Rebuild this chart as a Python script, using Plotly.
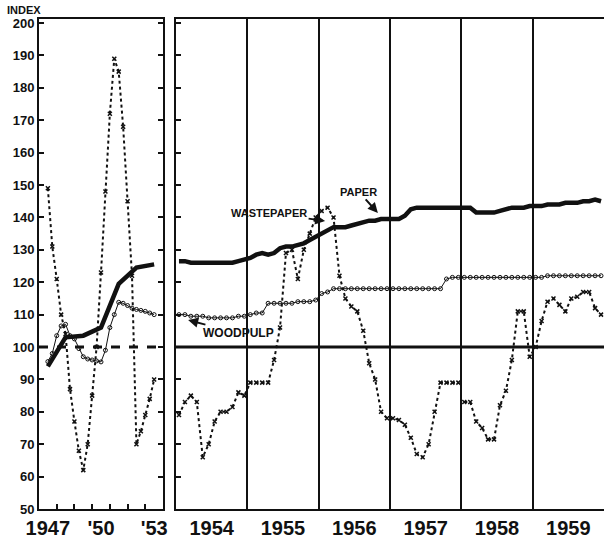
import plotly.graph_objects as go

# ---- 1947-1953 (left panel) ----
paper_years = [1947.5, 1948.5, 1949.5, 1950.5, 1951.5, 1952.5, 1953.5]
paper_early = [94, 103, 103.5, 106, 119.5, 124.5, 125.5]

early_q = [1947.5 + 0.25 * i for i in range(25)]
woodpulp_early = [95.5, 98, 103.5, 106.5, 107, 103.5, 102.5, 99.5, 97, 96.3, 96, 95.7, 95.4,
                  99, 106, 110, 113.8, 113.5, 112.8, 112, 111.6, 111.3, 111, 110.5, 110]
wastepaper_early = [149, 131, 121, 110, 104, 87, 77, 68, 62, 70, 85, 100, 123,
                    148, 172, 189, 185, 168, 145, 122, 70, 74, 79, 84, 90]

# ---- 1954-1959 monthly (right panel) ----
months = [1954 + (i + 0.5) / 12 for i in range(72)]
paper_late = [126.5, 126.5, 126, 126, 126, 126, 126, 126, 126, 126, 126.5, 127,
              127.5, 128.5, 129, 128.5, 129, 130.5, 131, 131, 131.5, 132, 133, 134,
              135, 136, 137, 137, 137, 137.5, 138, 138.5, 139, 139, 139.5, 139.5,
              139.5, 139.5, 140.5, 142.5, 143, 143, 143, 143, 143, 143, 143, 143,
              143, 143, 141.5, 141.5, 141.5, 141.5, 142, 142.5, 143, 143, 143, 143.5,
              143.5, 143.5, 144, 144, 144, 144.5, 144.5, 144.5, 145, 145, 145.5, 145]
woodpulp_late = [110, 110, 109.5, 109.5, 109.5, 109, 109, 109, 109, 109, 109.5, 109.5,
                 110, 110.5, 110.5, 113.5, 113.5, 113.5, 113.5, 113.5, 114, 114, 114, 114.5,
                 116.5, 117, 118, 118, 118, 118, 118, 118, 118, 118, 118, 118,
                 118, 118, 118, 118, 118, 118, 118, 118, 118, 121, 121.5, 121.5,
                 121.5, 121.5, 121.5, 121.5, 121.5, 121.5, 121.5, 121.5, 121.5, 121.5, 121.5, 121.5,
                 121.5, 121.5, 122, 122, 122, 122, 122, 122, 122, 122, 122, 122]
wastepaper_late = [79, 83, 85, 83, 66, 70, 77, 80, 80, 81.5, 86, 85,
                   89, 89, 89, 89, 96, 106, 129, 130, 121, 130, 135, 140,
                   142, 143, 140, 122, 115, 112.5, 111, 105, 95, 90, 80, 78,
                   78, 77.5, 76, 72, 67, 66, 70, 80, 89, 89, 89, 89,
                   83, 83, 77, 75, 71.5, 71.5, 82, 86.5, 96, 111, 111, 97,
                   100, 108, 114, 115, 113, 111, 115, 115.5, 117, 117, 112, 110]
# no line drawn between Dec 1957 and Jan 1958
wp_x = months[:48] + [1958.0] + months[48:]
wp_y = wastepaper_late[:48] + [None] + wastepaper_late[48:]

y_ticks = list(range(50, 201, 10))
early_labels = ["1947", "'50", "'53"]
late_labels = ["1954", "1955", "1956", "1957", "1958", "1959"]

INK = "#111111"
FONT = "Liberation Sans"

fig = go.Figure()

# left panel
fig.add_trace(go.Scatter(x=early_q, y=wastepaper_early, mode="lines+markers",
                         line=dict(color=INK, width=2, dash="dot"),
                         marker=dict(symbol="x-thin", size=4, line=dict(color=INK, width=1.5)),
                         xaxis="x", yaxis="y", name="Wastepaper"))
fig.add_trace(go.Scatter(x=early_q, y=woodpulp_early, mode="lines+markers",
                         line=dict(color=INK, width=1),
                         marker=dict(symbol="circle-open", size=4, color=INK, line=dict(width=1)),
                         xaxis="x", yaxis="y", name="Woodpulp"))
fig.add_trace(go.Scatter(x=paper_years, y=paper_early, mode="lines",
                         line=dict(color=INK, width=4.5),
                         xaxis="x", yaxis="y", name="Paper"))

# right panel
fig.add_trace(go.Scatter(x=wp_x, y=wp_y, mode="lines+markers",
                         line=dict(color=INK, width=2, dash="dot"),
                         marker=dict(symbol="x-thin", size=4, line=dict(color=INK, width=1.5)),
                         connectgaps=False,
                         xaxis="x2", yaxis="y2", name="Wastepaper"))
fig.add_trace(go.Scatter(x=months, y=woodpulp_late, mode="lines+markers",
                         line=dict(color=INK, width=1),
                         marker=dict(symbol="circle-open", size=4, color=INK, line=dict(width=1)),
                         xaxis="x2", yaxis="y2", name="Woodpulp"))
fig.add_trace(go.Scatter(x=months, y=paper_late, mode="lines",
                         line=dict(color=INK, width=4.5),
                         xaxis="x2", yaxis="y2", name="Paper"))

# base 100 lines
fig.add_shape(type="line", xref="x domain", yref="y", x0=0, x1=1, y0=100, y1=100,
              line=dict(color=INK, width=3, dash="dash"), layer="below")
fig.add_shape(type="line", xref="x2 domain", yref="y2", x0=0, x1=1, y0=100, y1=100,
              line=dict(color=INK, width=3), layer="below")

yr = [50, 201.4]
yfont = dict(family=FONT, size=13, color=INK)
xfont = dict(family=FONT, size=20, color=INK)
ydom = [31 / 540, 521.5 / 540]

fig.update_layout(
    width=604, height=540,
    margin=dict(l=0, r=0, t=0, b=0, pad=0, autoexpand=False),
    paper_bgcolor="white", plot_bgcolor="white",
    showlegend=False,
    xaxis=dict(domain=[39 / 604, 163 / 604], range=[1947, 1954], automargin=False,
               tickvals=[1947.5, 1950.5, 1953.5],
               ticktext=["<b>%s</b>" % t for t in early_labels],
               ticks="", tickfont=xfont, ticklabelstandoff=0,
               showgrid=False, zeroline=False,
               showline=True, linecolor=INK, linewidth=2, mirror=True,
               minor=dict(tickvals=[1948, 1949, 1950, 1951, 1952, 1953],
                          ticks="inside", ticklen=5, tickwidth=1.5, tickcolor=INK)),
    yaxis=dict(domain=ydom, range=yr, anchor="x", automargin=False,
               tickvals=y_ticks, ticktext=["<b>%d</b>" % v for v in y_ticks],
               ticks="inside", ticklen=5, tickwidth=1.5, tickcolor=INK,
               tickfont=yfont, showgrid=False, zeroline=False,
               showline=True, linecolor=INK, linewidth=2, mirror="ticks"),
    xaxis2=dict(domain=[176 / 604, 1.0], range=[1954, 1960], anchor="y2", automargin=False,
                tickvals=[1954.5, 1955.5, 1956.5, 1957.5, 1958.5, 1959.5],
                ticktext=["<b>%s</b>" % t for t in late_labels],
                ticks="", tickfont=xfont, ticklabelstandoff=0,
                showgrid=False, zeroline=False,
                showline=True, linecolor=INK, linewidth=2, mirror=True,
                minor=dict(tickvals=[1955, 1956, 1957, 1958, 1959], ticks="",
                           showgrid=True, gridcolor=INK, gridwidth=1.5)),
    yaxis2=dict(domain=ydom, range=yr, anchor="x2", automargin=False,
                tickvals=y_ticks, ticks="inside", ticklen=5, tickwidth=1.5, tickcolor=INK,
                showticklabels=False, showgrid=False, zeroline=False,
                showline=True, linecolor=INK, linewidth=2),
    yaxis3=dict(overlaying="y2", side="right", anchor="free", position=1.0, range=yr,
                automargin=False,
                tickvals=y_ticks, ticks="inside", ticklen=5, tickwidth=1.5, tickcolor=INK,
                showticklabels=False, showgrid=False, zeroline=False, showline=False),
)

lab = dict(family=FONT, size=11, color=INK)
fig.add_annotation(x=5 / 604, y=1 - 10 / 540, xref="paper", yref="paper", text="<b>INDEX</b>",
                   showarrow=False, xanchor="left", yanchor="middle", font=lab)
fig.add_annotation(x=1956.09, y=138.9, xref="x2", yref="y2", text="<b>WASTEPAPER</b>",
                   showarrow=True, ax=-56, ay=-8, arrowhead=2, arrowsize=1, arrowwidth=2,
                   arrowcolor=INK, font=lab)
fig.add_annotation(x=1956.83, y=141.4, xref="x2", yref="y2", text="<b>PAPER</b>",
                   showarrow=True, ax=-19, ay=-21, arrowhead=2, arrowsize=1, arrowwidth=2,
                   arrowcolor=INK, font=lab)
fig.add_annotation(x=1954.17, y=108.3, xref="x2", yref="y2", text="<b>WOODPULP</b>",
                   showarrow=True, ax=50, ay=13, arrowhead=2, arrowsize=1, arrowwidth=2,
                   arrowcolor=INK, font=dict(family=FONT, size=12, color=INK))

# the page body has a default 8px margin; drop it so the figure sits at the window corner
fig.write_html("out.html", config={"displayModeBar": False},
               post_script="document.body.style.margin='0';")
